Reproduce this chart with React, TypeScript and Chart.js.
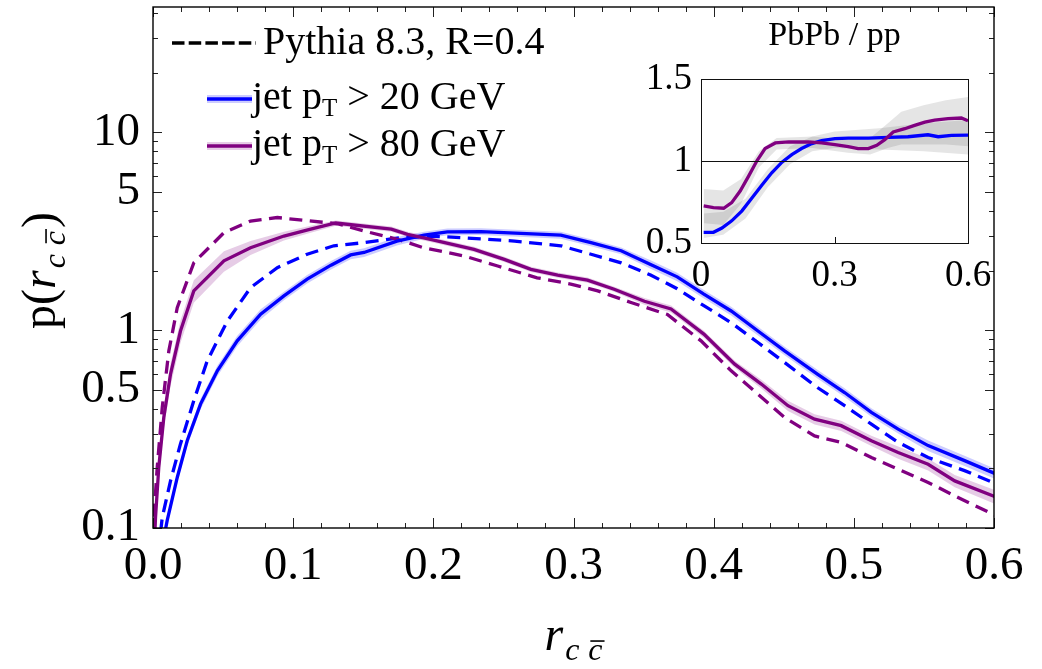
import React, { useEffect, useRef } from 'react';
import { Chart, registerables } from 'chart.js';

Chart.register(...registerables);

const FONT = '"Liberation Serif", "Times New Roman", Times, serif';

// ---------- main panel data ----------
const blueSolidX = [0.0085, 0.0101, 0.0173, 0.0244, 0.0339, 0.0459, 0.0601, 0.0768, 0.0934, 0.110, 0.127, 0.141, 0.1506, 0.174, 0.1934, 0.210, 0.234, 0.291, 0.3125, 0.334, 0.355, 0.374, 0.393, 0.4125, 0.4316, 0.4506, 0.474, 0.4934, 0.5125, 0.5316, 0.553, 0.579, 0.6018];
const blueSolidY = [0.095, 0.109, 0.180, 0.276, 0.423, 0.623, 0.883, 1.205, 1.49, 1.81, 2.13, 2.40, 2.47, 2.82, 3.02, 3.14, 3.15, 3.02, 2.77, 2.52, 2.15, 1.86, 1.52, 1.25, 0.99, 0.786, 0.600, 0.484, 0.384, 0.316, 0.261, 0.219, 0.187];
const blueSolidErr = [0.06, 0.06, 0.06, 0.06, 0.06, 0.06, 0.06, 0.06, 0.05, 0.05, 0.05, 0.05, 0.05, 0.05, 0.04, 0.04, 0.04, 0.04, 0.04, 0.04, 0.05, 0.05, 0.05, 0.05, 0.05, 0.05, 0.05, 0.05, 0.05, 0.05, 0.06, 0.06, 0.06];

const blueDashX = [0.0054, 0.0066, 0.0125, 0.0196, 0.0291, 0.0387, 0.053, 0.0696, 0.0887, 0.110, 0.129, 0.1506, 0.174, 0.198, 0.222, 0.258, 0.291, 0.3125, 0.334, 0.355, 0.374, 0.393, 0.4125, 0.4316, 0.4506, 0.474, 0.4934, 0.5125, 0.5316, 0.553, 0.579, 0.6018];
const blueDashY = [0.095, 0.113, 0.173, 0.266, 0.44, 0.70, 1.11, 1.64, 2.07, 2.42, 2.67, 2.77, 2.92, 2.99, 2.93, 2.82, 2.67, 2.42, 2.19, 1.90, 1.62, 1.33, 1.09, 0.866, 0.686, 0.513, 0.415, 0.335, 0.271, 0.227, 0.195, 0.167];

const purpleSolidX = [0.0012, 0.0018, 0.0041, 0.0077, 0.0125, 0.0196, 0.0291, 0.0506, 0.0696, 0.0934, 0.1125, 0.1304, 0.170, 0.1816, 0.198, 0.229, 0.2506, 0.2696, 0.2887, 0.310, 0.329, 0.3506, 0.3696, 0.393, 0.415, 0.434, 0.453, 0.472, 0.491, 0.5125, 0.5316, 0.553, 0.572, 0.6018];
const purpleSolidY = [0.09, 0.113, 0.202, 0.362, 0.60, 0.99, 1.58, 2.24, 2.61, 2.99, 3.24, 3.48, 3.24, 3.05, 2.88, 2.56, 2.28, 2.03, 1.90, 1.79, 1.61, 1.40, 1.28, 0.955, 0.673, 0.534, 0.415, 0.355, 0.329, 0.276, 0.241, 0.21, 0.173, 0.143];
const purpleSolidErr = [0.10, 0.10, 0.12, 0.12, 0.13, 0.13, 0.13, 0.12, 0.08, 0.05, 0.04, 0.03, 0.03, 0.03, 0.03, 0.03, 0.03, 0.03, 0.03, 0.03, 0.03, 0.04, 0.04, 0.04, 0.04, 0.05, 0.06, 0.06, 0.06, 0.06, 0.07, 0.07, 0.07, 0.08];

const purpleDashX = [0.0003, 0.0006, 0.003, 0.0066, 0.0113, 0.0173, 0.0291, 0.0506, 0.0696, 0.0887, 0.1077, 0.1316, 0.1506, 0.1744, 0.193, 0.222, 0.2459, 0.274, 0.298, 0.3173, 0.341, 0.367, 0.391, 0.4125, 0.4316, 0.4506, 0.472, 0.491, 0.5125, 0.534, 0.553, 0.574, 0.6018];
const purpleDashY = [0.09, 0.113, 0.202, 0.407, 0.786, 1.30, 2.19, 3.11, 3.56, 3.71, 3.59, 3.45, 3.17, 2.88, 2.61, 2.37, 2.11, 1.84, 1.71, 1.58, 1.38, 1.20, 0.883, 0.623, 0.475, 0.362, 0.292, 0.271, 0.227, 0.195, 0.17, 0.143, 0.115];

// ---------- inset (PbPb / pp) data ----------
const ratioBlueX = [0.006, 0.028, 0.047, 0.069, 0.092, 0.114, 0.137, 0.159, 0.182, 0.204, 0.226, 0.249, 0.271, 0.301, 0.331, 0.376, 0.421, 0.465, 0.510, 0.533, 0.563, 0.600];
const ratioBlueY = [0.565, 0.565, 0.591, 0.635, 0.696, 0.773, 0.854, 0.928, 0.993, 1.039, 1.076, 1.106, 1.124, 1.136, 1.140, 1.140, 1.144, 1.148, 1.160, 1.148, 1.156, 1.158];
const ratioPurpleX = [0.006, 0.028, 0.051, 0.069, 0.088, 0.107, 0.126, 0.144, 0.167, 0.197, 0.241, 0.271, 0.301, 0.331, 0.353, 0.376, 0.395, 0.413, 0.432, 0.458, 0.480, 0.503, 0.525, 0.555, 0.585, 0.600];
const ratioPurpleY = [0.726, 0.716, 0.712, 0.746, 0.817, 0.908, 1.003, 1.076, 1.110, 1.116, 1.116, 1.110, 1.100, 1.088, 1.076, 1.076, 1.096, 1.130, 1.177, 1.197, 1.217, 1.237, 1.249, 1.258, 1.262, 1.245];
const bandBlueX = [0.006, 0.05, 0.1, 0.15, 0.2, 0.25, 0.3, 0.4, 0.5, 0.6];
const bandBlueLo = [0.53, 0.55, 0.65, 0.84, 0.98, 1.06, 1.08, 1.07, 1.06, 1.04];
const bandBlueHi = [0.68, 0.69, 0.77, 0.95, 1.09, 1.15, 1.18, 1.20, 1.23, 1.25];
const bandPurpleX = [0.006, 0.05, 0.09, 0.13, 0.17, 0.25, 0.33, 0.38, 0.42, 0.45, 0.5, 0.55, 0.6];
const bandPurpleLo = [0.62, 0.61, 0.74, 0.96, 1.07, 1.08, 1.05, 1.04, 1.08, 1.10, 1.10, 1.10, 1.09];
const bandPurpleHi = [0.83, 0.82, 0.89, 1.06, 1.14, 1.15, 1.13, 1.14, 1.23, 1.30, 1.34, 1.37, 1.39];

// ---------- ticks & labels ----------
const xTickValues = [0, 0.1, 0.2, 0.3, 0.4, 0.5, 0.6];
const xTickLabels = ['0.0', '0.1', '0.2', '0.3', '0.4', '0.5', '0.6'];
const xMinorStep = 0.02;
const yTickValues = [0.1, 0.2, 0.3, 0.4, 0.5, 0.6, 0.7, 0.8, 0.9, 1, 2, 3, 4, 5, 6, 7, 8, 9, 10, 20, 30, 40];
const yLabelValues = [0.1, 0.5, 1, 5, 10];
const yLabelTexts = ['0.1', '0.5', '1', '5', '10'];
const insetXTicks = [0, 0.3, 0.6];
const insetXLabels = ['0', '0.3', '0.6'];
const insetYTicks = [0.5, 1, 1.5];
const insetYLabels = ['0.5', '1', '1.5'];

const legendTitle = 'Pythia 8.3, R=0.4';
const legendCuts = ['20', '80'];
const insetTitle = 'PbPb / pp';

const BLUE = 'rgb(0,0,255)';
const PURPLE = 'rgb(128,0,128)';
const BLUE_BAND = 'rgba(0,0,255,0.2)';
const PURPLE_BAND = 'rgba(128,0,128,0.2)';
const GRAY_BAND = 'rgba(0,0,0,0.1)';

const xy = (xs: number[], ys: number[]) => xs.map((x, i) => ({ x, y: ys[i] }));

function rccWidth(ctx: CanvasRenderingContext2D, big: number, small: number) {
  ctx.font = `italic ${big}px ${FONT}`;
  const rw = ctx.measureText('r').width;
  ctx.font = `italic ${small}px ${FONT}`;
  const cw = ctx.measureText('c').width;
  return rw + 2 + cw + 9 + cw;
}

function drawRcc(ctx: CanvasRenderingContext2D, x: number, y: number, big: number, small: number) {
  ctx.font = `italic ${big}px ${FONT}`;
  ctx.fillText('r', x, y);
  let cx = x + ctx.measureText('r').width + 2;
  ctx.font = `italic ${small}px ${FONT}`;
  const sy = y + small * 0.32;
  const cw = ctx.measureText('c').width;
  ctx.fillText('c', cx, sy);
  cx += cw + 9;
  ctx.fillText('c', cx, sy);
  ctx.save();
  ctx.lineWidth = 1.6;
  ctx.strokeStyle = '#000';
  ctx.beginPath();
  const my = sy - small * 0.6;
  ctx.moveTo(cx + 2, my);
  ctx.lineTo(cx + cw + 2, my);
  ctx.stroke();
  ctx.restore();
}

function drawJetLabel(ctx: CanvasRenderingContext2D, x: number, y: number, cut: string) {
  ctx.font = `40px ${FONT}`;
  ctx.fillText('jet p', x, y);
  let cx = x + ctx.measureText('jet p').width;
  ctx.font = `25px ${FONT}`;
  ctx.fillText('T', cx, y + 7);
  cx += ctx.measureText('T').width;
  ctx.font = `40px ${FONT}`;
  ctx.fillText(` > ${cut} GeV`, cx, y);
}

const mainDecor = {
  id: 'mainDecor',
  afterDraw(chart: any) {
    const ctx: CanvasRenderingContext2D = chart.ctx;
    const { left, right, top, bottom } = chart.chartArea;
    const xs = chart.scales.x;
    const ys = chart.scales.y;
    ctx.save();
    // ticks
    ctx.strokeStyle = '#222';
    ctx.lineWidth = 1;
    ctx.beginPath();
    for (let i = 0; i <= Math.round(0.6 / xMinorStep); i++) {
      const v = i * xMinorStep;
      const px = Math.round(xs.getPixelForValue(v)) + 0.5;
      const major = i % 5 === 0;
      const len = major ? 10 : 5;
      ctx.moveTo(px, bottom);
      ctx.lineTo(px, bottom - len);
      ctx.moveTo(px, top);
      ctx.lineTo(px, top + len);
    }
    yTickValues.forEach((v) => {
      const py = Math.round(ys.getPixelForValue(v)) + 0.5;
      const major = yLabelValues.includes(v);
      const len = major ? 9 : 5;
      ctx.moveTo(left, py);
      ctx.lineTo(left + len, py);
      ctx.moveTo(right, py);
      ctx.lineTo(right - len, py);
    });
    ctx.stroke();
    // frame
    ctx.strokeStyle = '#000';
    ctx.lineWidth = 1.4;
    ctx.strokeRect(left, top, right - left, bottom - top);

    // legend
    ctx.fillStyle = '#000';
    ctx.textAlign = 'left';
    ctx.textBaseline = 'alphabetic';
    ctx.strokeStyle = '#000';
    ctx.lineWidth = 3.3;
    ctx.setLineDash([12.5, 4.2]);
    ctx.beginPath();
    ctx.moveTo(172, 43);
    ctx.lineTo(256, 43);
    ctx.stroke();
    ctx.setLineDash([]);
    ctx.font = `40px ${FONT}`;
    ctx.fillText(legendTitle, 263, 53.5);

    const legendRows = [
      { y: 99, color: BLUE, band: BLUE_BAND, cut: legendCuts[0] },
      { y: 146, color: PURPLE, band: PURPLE_BAND, cut: legendCuts[1] },
    ];
    legendRows.forEach((r) => {
      ctx.strokeStyle = r.band;
      ctx.lineWidth = 8;
      ctx.beginPath();
      ctx.moveTo(207, r.y);
      ctx.lineTo(252, r.y);
      ctx.stroke();
      ctx.strokeStyle = r.color;
      ctx.lineWidth = 3.5;
      ctx.beginPath();
      ctx.moveTo(207, r.y);
      ctx.lineTo(252, r.y);
      ctx.stroke();
      ctx.fillStyle = '#000';
      drawJetLabel(ctx, 252, r.y + 9.5, r.cut);
    });

    // x title
    ctx.fillStyle = '#000';
    const w = rccWidth(ctx, 48, 32);
    drawRcc(ctx, (left + right) / 2 - w / 2, 650, 48, 32);

    // y title (rotated)
    ctx.save();
    ctx.translate(55, (top + bottom) / 2 + 3);
    ctx.rotate(-Math.PI / 2);
    ctx.font = `48px ${FONT}`;
    const wp = ctx.measureText('p(').width;
    const wc = ctx.measureText(')').width;
    const wr = rccWidth(ctx, 48, 32);
    const total = wp + wr + 3 + wc;
    let sx = -total / 2;
    ctx.font = `48px ${FONT}`;
    ctx.fillText('p(', sx, 0);
    sx += wp;
    drawRcc(ctx, sx, 0, 48, 32);
    sx += wr + 3;
    ctx.font = `48px ${FONT}`;
    ctx.fillText(')', sx, 0);
    ctx.restore();

    ctx.restore();
  },
};

const insetDecor = {
  id: 'insetDecor',
  afterDraw(chart: any) {
    const ctx: CanvasRenderingContext2D = chart.ctx;
    const { left, right, top, bottom } = chart.chartArea;
    const xs = chart.scales.x;
    const ys = chart.scales.y;
    ctx.save();
    ctx.strokeStyle = '#111';
    ctx.lineWidth = 1;
    // unity line
    const py1 = Math.round(ys.getPixelForValue(1)) + 0.5;
    ctx.beginPath();
    ctx.moveTo(left, py1);
    ctx.lineTo(right, py1);
    // tick at 0.3
    const px3 = Math.round(xs.getPixelForValue(insetXTicks[1])) + 0.5;
    ctx.moveTo(px3, bottom);
    ctx.lineTo(px3, bottom - 6);
    ctx.stroke();
    ctx.strokeRect(Math.round(left) + 0.5, Math.round(top) + 0.5, Math.round(right - left), Math.round(bottom - top));
    // title
    ctx.fillStyle = '#000';
    ctx.font = `34px ${FONT}`;
    ctx.textAlign = 'center';
    ctx.textBaseline = 'alphabetic';
    ctx.fillText(insetTitle, (left + right) / 2, 25);
    ctx.restore();
  },
};

export default function App() {
  const mainRef = useRef<HTMLCanvasElement>(null);
  const insetRef = useRef<HTMLCanvasElement>(null);

  useEffect(() => {
    if (!mainRef.current || !insetRef.current) return;
    const bandUpper = (ys: number[], err: number[]) => ys.map((v, i) => v * (1 + err[i]));
    const bandLower = (ys: number[], err: number[]) => ys.map((v, i) => v * (1 - err[i]));

    const bandSet = (data: any, fill: any, color: string) => ({
      data,
      borderWidth: 0,
      pointRadius: 0,
      fill,
      backgroundColor: color,
      borderColor: 'transparent',
      order: 10,
    });
    const lineSet = (data: any, color: string, dashed: boolean, order: number) => ({
      data,
      borderColor: color,
      borderWidth: 3.3,
      borderDash: dashed ? [13, 7.5] : [],
      pointRadius: 0,
      fill: false,
      tension: 0,
      order,
    });

    const zeroPad = (s: any) => {
      s.paddingTop = 0;
      s.paddingBottom = 0;
      s.paddingLeft = 0;
      s.paddingRight = 0;
    };

    const main = new Chart(mainRef.current, {
      type: 'line',
      data: {
        datasets: [
          bandSet(xy(purpleSolidX, bandUpper(purpleSolidY, purpleSolidErr)), '+1', PURPLE_BAND),
          bandSet(xy(purpleSolidX, bandLower(purpleSolidY, purpleSolidErr)), false, PURPLE_BAND),
          bandSet(xy(blueSolidX, bandUpper(blueSolidY, blueSolidErr)), '+1', BLUE_BAND),
          bandSet(xy(blueSolidX, bandLower(blueSolidY, blueSolidErr)), false, BLUE_BAND),
          lineSet(xy(purpleDashX, purpleDashY), PURPLE, true, 3),
          lineSet(xy(blueDashX, blueDashY), BLUE, true, 3),
          lineSet(xy(purpleSolidX, purpleSolidY), PURPLE, false, 1),
          lineSet(xy(blueSolidX, blueSolidY), BLUE, false, 1),
        ] as any,
      },
      options: {
        animation: false,
        responsive: false,
        devicePixelRatio: 1,
        events: [],
        layout: { padding: { left: 0, right: 48, top: 7, bottom: 0 } },
        plugins: { legend: { display: false }, tooltip: { enabled: false }, title: { display: false } },
        scales: {
          x: {
            type: 'linear',
            min: 0,
            max: 0.6,
            grid: { display: false, drawTicks: false },
            border: { display: false },
            afterBuildTicks: (s: any) => {
              s.ticks = xTickValues.map((v) => ({ value: v }));
            },
            afterFit: (s: any) => {
              s.height = 141;
              zeroPad(s);
            },
            ticks: {
              autoSkip: false,
              maxRotation: 0,
              padding: 15,
              color: '#000',
              font: { family: FONT, size: 47, lineHeight: 1 },
              callback: (_v: any, i: number) => xTickLabels[i],
            },
          },
          y: {
            type: 'logarithmic',
            min: 0.1,
            max: 43,
            grid: { display: false, drawTicks: false },
            border: { display: false },
            afterBuildTicks: (s: any) => {
              s.ticks = yTickValues.map((v) => ({ value: v }));
            },
            afterFit: (s: any) => {
              s.width = 153;
              zeroPad(s);
            },
            ticks: {
              autoSkip: false,
              padding: 13,
              color: '#000',
              font: { family: FONT, size: 47, lineHeight: 1 },
              callback: (v: any) => {
                const k = yLabelValues.findIndex((lv) => Math.abs(lv - Number(v)) < 1e-9);
                return k >= 0 ? yLabelTexts[k] : '';
              },
            },
          },
        },
      } as any,
      plugins: [mainDecor],
    });

    const inset = new Chart(insetRef.current, {
      type: 'line',
      data: {
        datasets: [
          bandSet(xy(bandPurpleX, bandPurpleHi), '+1', GRAY_BAND),
          bandSet(xy(bandPurpleX, bandPurpleLo), false, GRAY_BAND),
          bandSet(xy(bandBlueX, bandBlueHi), '+1', GRAY_BAND),
          bandSet(xy(bandBlueX, bandBlueLo), false, GRAY_BAND),
          lineSet(xy(ratioPurpleX, ratioPurpleY), PURPLE, false, 1),
          lineSet(xy(ratioBlueX, ratioBlueY), BLUE, false, 2),
        ] as any,
      },
      options: {
        animation: false,
        responsive: false,
        devicePixelRatio: 1,
        events: [],
        layout: { padding: { left: 0, right: 32, top: 59, bottom: 0 } },
        plugins: { legend: { display: false }, tooltip: { enabled: false }, title: { display: false } },
        scales: {
          x: {
            type: 'linear',
            min: 0,
            max: 0.6,
            grid: { display: false, drawTicks: false },
            border: { display: false },
            afterBuildTicks: (s: any) => {
              s.ticks = insetXTicks.map((v) => ({ value: v }));
            },
            afterFit: (s: any) => {
              s.height = 57;
              zeroPad(s);
            },
            ticks: {
              autoSkip: false,
              maxRotation: 0,
              padding: 15,
              color: '#000',
              font: { family: FONT, size: 37, lineHeight: 1 },
              callback: (_v: any, i: number) => insetXLabels[i],
            },
          },
          y: {
            type: 'linear',
            min: 0.5,
            max: 1.5,
            grid: { display: false, drawTicks: false },
            border: { display: false },
            afterBuildTicks: (s: any) => {
              s.ticks = insetYTicks.map((v) => ({ value: v }));
            },
            afterFit: (s: any) => {
              s.width = 101;
              zeroPad(s);
            },
            ticks: {
              autoSkip: false,
              padding: 9,
              color: '#000',
              font: { family: FONT, size: 37, lineHeight: 1 },
              callback: (_v: any, i: number) => insetYLabels[i],
            },
          },
        },
      } as any,
      plugins: [insetDecor],
    });

    return () => {
      main.destroy();
      inset.destroy();
    };
  }, []);

  return (
    <div style={{ position: 'fixed', left: 0, top: 0, width: 1042, height: 669, background: '#fff' }}>
      <canvas
        ref={mainRef}
        width={1042}
        height={669}
        style={{ position: 'absolute', left: 0, top: 0, width: 1042, height: 669 }}
      />
      <canvas
        ref={insetRef}
        width={400}
        height={280}
        style={{ position: 'absolute', left: 600, top: 20, width: 400, height: 280 }}
      />
    </div>
  );
}
